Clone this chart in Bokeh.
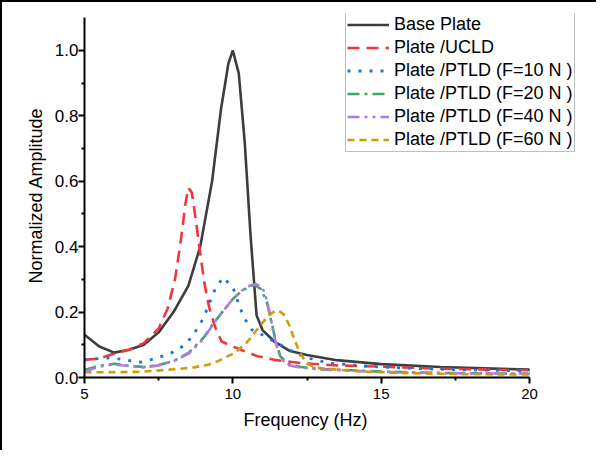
from bokeh.plotting import figure
from bokeh.models import FixedTicker, PrintfTickFormatter, Legend, LegendItem, Title
from bokeh.embed import file_html
from bokeh.resources import INLINE

# ---- data ----
base_x = [5, 5.5, 6, 6.5, 7, 7.5, 8, 8.5, 8.9, 9.3, 9.6, 9.85, 10.0, 10.2, 10.4, 10.6, 10.8, 11.0, 11.4, 11.9, 12.5, 13.5, 15, 17, 20]
base_y = [0.131, 0.095, 0.076, 0.085, 0.10, 0.138, 0.20, 0.28, 0.40, 0.60, 0.82, 0.96, 1.0, 0.93, 0.72, 0.43, 0.19, 0.145, 0.11, 0.082, 0.069, 0.053, 0.041, 0.032, 0.024]

ucld_x = [5, 5.5, 5.9, 6.5, 7, 7.5, 7.8, 8.05, 8.25, 8.4, 8.5, 8.62, 8.77, 8.9, 9.05, 9.2, 9.4, 9.62, 10.0, 10.4, 10.8, 11.4, 12.3, 13.5, 15, 17, 20]
ucld_y = [0.054, 0.058, 0.07, 0.085, 0.105, 0.15, 0.21, 0.30, 0.42, 0.53, 0.58, 0.565, 0.47, 0.38, 0.284, 0.215, 0.155, 0.11, 0.095, 0.08, 0.066, 0.054, 0.044, 0.037, 0.033, 0.027, 0.022]

f10_x = [5, 5.5, 5.9, 6.5, 6.9, 7.4, 7.9, 8.4, 8.7, 9.0, 9.2, 9.4, 9.67, 10.0, 10.35, 10.65, 10.9, 11.2, 11.5, 11.8, 12.1, 12.5, 13.2, 14, 15, 17, 20]
f10_y = [0.054, 0.058, 0.06, 0.052, 0.047, 0.058, 0.074, 0.10, 0.135, 0.18, 0.225, 0.27, 0.306, 0.276, 0.187, 0.145, 0.135, 0.12, 0.105, 0.09, 0.075, 0.06, 0.045, 0.038, 0.032, 0.025, 0.02]

f20_x = [5, 5.5, 6, 6.5, 7, 7.5, 8, 8.5, 9, 9.3, 9.6, 10, 10.3, 10.6, 10.75, 10.95, 11.15, 11.3, 11.45, 11.6, 11.85, 12.3, 13, 15, 17, 20]
f20_y = [0.023, 0.036, 0.042, 0.036, 0.032, 0.038, 0.05, 0.075, 0.12, 0.16, 0.195, 0.24, 0.265, 0.28, 0.282, 0.27, 0.23, 0.17, 0.11, 0.065, 0.042, 0.032, 0.026, 0.018, 0.014, 0.011]

f40_x = [5, 5.5, 6, 6.5, 7, 7.5, 8, 8.5, 9, 9.3, 9.6, 10, 10.3, 10.6, 10.8, 11.0, 11.15, 11.3, 11.45, 11.6, 11.85, 12.3, 13, 15, 17, 20]
f40_y = [0.018, 0.033, 0.04, 0.035, 0.031, 0.037, 0.05, 0.072, 0.117, 0.158, 0.195, 0.24, 0.266, 0.282, 0.285, 0.275, 0.235, 0.17, 0.105, 0.06, 0.038, 0.03, 0.024, 0.017, 0.013, 0.012]

f60_x = [5, 6, 7, 8, 8.7, 9.2, 9.5, 10.1, 10.5, 10.9, 11.2, 11.4, 11.55, 11.75, 11.9, 12.1, 12.3, 12.5, 12.8, 13.5, 14.5, 16, 18, 20]
f60_y = [0.016, 0.016, 0.018, 0.025, 0.031, 0.04, 0.05, 0.077, 0.11, 0.156, 0.19, 0.202, 0.204, 0.19, 0.16, 0.11, 0.07, 0.042, 0.03, 0.024, 0.018, 0.013, 0.01, 0.009]

labels = ["Base Plate", "Plate /UCLD", "Plate /PTLD (F=10 N )", "Plate /PTLD (F=20 N )",
          "Plate /PTLD (F=40 N )", "Plate /PTLD (F=60 N )"]
x_title = "Frequency (Hz)"
y_title = "Normalized Amplitude"
x_bounds = (5, 20)
y_bounds = (0, 1.1)
x_ticks = [5, 10, 15, 20]
x_minor = [7.5, 12.5, 17.5]
y_ticks = [0.0, 0.2, 0.4, 0.6, 0.8, 1.0]
y_minor = [0.1, 0.3, 0.5, 0.7, 0.9]

FONT = "Liberation Sans"

# frame is widened past x=20 (and above 1.1) so the legend is not clipped;
# the axes themselves are limited with `bounds`.
p = figure(width=596, height=450, x_range=(5, 21.92), y_range=(0, 1.113),
           output_backend="svg", toolbar_location=None,
           min_border_left=82, min_border_right=12, min_border_top=11, min_border_bottom=75,
           y_axis_label=y_title)
p.styles = {"border-left": "2px solid black", "border-top": "2px solid black"}
p.outline_line_color = None
p.grid.visible = False
p.background_fill_color = "white"
p.border_fill_color = "white"

p.xaxis.ticker = FixedTicker(ticks=x_ticks, minor_ticks=x_minor)
p.yaxis.ticker = FixedTicker(ticks=y_ticks, minor_ticks=y_minor)
p.yaxis.formatter = PrintfTickFormatter(format="%.1f")
p.xaxis.bounds = x_bounds
p.yaxis.bounds = y_bounds

for ax in (p.xaxis[0], p.yaxis[0]):
    ax.axis_line_width = 2
    ax.axis_line_color = "black"
    ax.major_tick_line_width = 2
    ax.minor_tick_line_width = 2
    ax.major_tick_out = 6
    ax.major_tick_in = 0
    ax.minor_tick_out = 3
    ax.minor_tick_in = 0
    ax.major_label_text_font = FONT
    ax.major_label_text_color = "black"
    ax.axis_label_text_font = FONT
    ax.axis_label_text_font_size = "18px"
    ax.axis_label_text_font_style = "normal"
    ax.axis_label_text_color = "black"
p.xaxis.major_label_text_font_size = "15px"
p.yaxis.major_label_text_font_size = "17px"
p.xaxis.major_label_standoff = 5
p.yaxis.major_label_standoff = 0
p.yaxis.axis_label_standoff = 6

# x-axis title placed as a "below" Title so it can be centred under the x-axis span
xt = Title(text=x_title, align="left", offset=153, standoff=13, padding=(6, 0, 0, 0),
           text_font=FONT, text_font_size="18px", text_font_style="normal", text_color="black")
p.add_layout(xt, "below")

r0 = p.line(base_x, base_y, line_color="#3d3d3d", line_width=2.6)
r1 = p.line(ucld_x, ucld_y, line_color="#f0363c", line_width=2.6, line_dash="12 7")
r2 = p.line(f10_x, f10_y, line_color="#1e73d6", line_width=2.8, line_dash="3 8")
r3 = p.line(f20_x, f20_y, line_color="#3aa86a", line_width=2.6, line_dash="12 5 3 5")
r4 = p.line(f40_x, f40_y, line_color="#b07ce2", line_width=2.6, line_dash="12 5 3 5 3 5")
r5 = p.line(f60_x, f60_y, line_color="#d09b08", line_width=2.6, line_dash="7 5")

legend = Legend(items=[LegendItem(label=l, renderers=[r]) for l, r in zip(labels, [r0, r1, r2, r3, r4, r5])],
                location=(261, 225))
legend.label_text_font = FONT
legend.label_text_font_size = "18px"
legend.label_text_color = "black"
legend.glyph_width = 42
legend.glyph_height = 21
legend.label_height = 21
legend.label_standoff = 5
legend.spacing = 2
legend.padding = 1
legend.margin = 0
legend.border_line_color = "#808080"
legend.border_line_width = 1
legend.background_fill_color = "white"
legend.background_fill_alpha = 1
p.add_layout(legend, "center")

open("out.html", "w").write(file_html(p, INLINE))
